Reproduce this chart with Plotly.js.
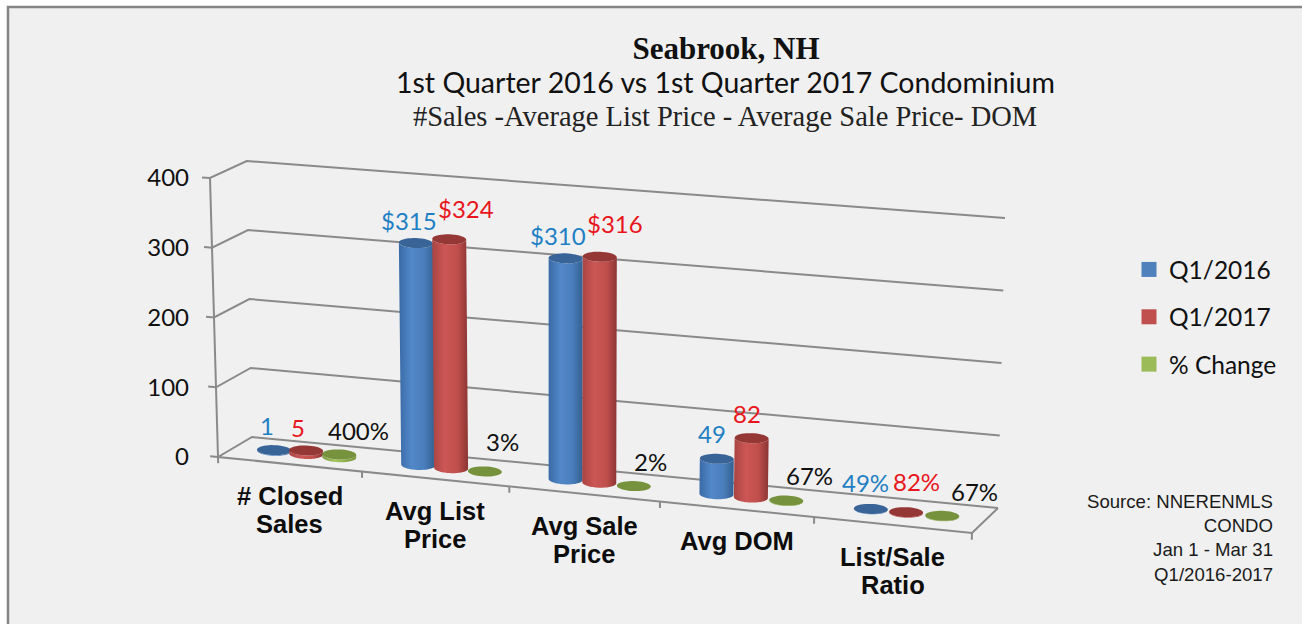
<!DOCTYPE html>
<html><head><meta charset="utf-8">
<script src="https://cdn.plot.ly/plotly-3.0.1.min.js"></script>
<style>html,body{margin:0;padding:0;background:#fff}#chart{width:1302px;height:624px}</style>
</head><body><div id="chart"></div>
<script>
// ---- data ----
const categories = ['# Closed<br>Sales','Avg List<br>Price','Avg Sale<br>Price','Avg DOM','List/Sale<br>Ratio'];
const q12016 = [1, 315, 310, 49, 0.49];
const q12017 = [5, 324, 316, 82, 0.82];
const pctChange = [4, 0.03, 0.02, 0.67, 0.67];
const labels2016 = ['1','$315','$310','49','49%'];
const labels2017 = ['5','$324','$316','82','82%'];
const labelsPct = ['400%','3%','2%','67%','67%'];
const yTicks = [0,100,200,300,400];
const seriesNames = ['Q1/2016','Q1/2017','% Change'];

// ---- plot area (pixels) ----
const W=1302,H=624, L=190,R=1050,T=150,B=570;
const PXU=150.8, PYU=0.6975;            // pixels per category, pixels per value unit at the front-left corner
const X=p=>(p-218)/PXU, Y=p=>(457-p)/PYU;
const DX=p=>p/PXU, DY=p=>p/PYU;

// oblique floor and walls, in axis units
const corners={
  FL:{x:X(218),y:Y(457),tx:DX(-8)/400,ty:DY(279)/400},
  FR:{x:X(972),y:Y(533),tx:DX(10)/400,ty:DY(300)/400},
  BL:{x:X(252),y:Y(437),tx:DX(-5.3)/400,ty:DY(276)/400},
  BR:{x:X(998),y:Y(508),tx:DX(7)/400,ty:DY(290)/400}
};
const k=0.059;
function persp(u){const s=u/5;return s/(1+k*(1-s));}
function project(u,d,v){
  const t=persp(u);
  const mix=(a,b,w)=>a+(b-a)*w;
  const at=(c,v)=>[c.x+c.tx*v,c.y+c.ty*v];
  const f=[mix(at(corners.FL,v)[0],at(corners.FR,v)[0],t),mix(at(corners.FL,v)[1],at(corners.FR,v)[1],t)];
  const b=[mix(at(corners.BL,v)[0],at(corners.BR,v)[0],t),mix(at(corners.BL,v)[1],at(corners.BR,v)[1],t)];
  return [mix(f[0],b[0],d),mix(f[1],b[1],d)];
}
function line(pts,width,color){
  return {type:'scatter',mode:'lines',x:pts.map(p=>p[0]),y:pts.map(p=>p[1]),
    line:{color:color||'#8a8a8a',width:width||2},hoverinfo:'skip',showlegend:false,xaxis:'x',yaxis:'y'};
}
const traces=[];
// walls
yTicks.forEach(v=>{
  traces.push(line([project(-0.055,0,v),project(0,0,v),project(0,1,v),project(5,1,v)]));
});
// floor + frame
traces.push(line([project(0,0,400),project(0,0,0),project(5,0,0),project(5,1,0)]));
[0,1,2,3,4,5].forEach(u=>traces.push(line([project(u,0,0),project(u,0,-9)])));

// cylinders
const styles=[
 {vals:q12016,off:0.275,top:'#386497',scale:[[0,'#3a6aa6'],[0.35,'#5288c9'],[0.7,'#4a7dbb'],[1,'#33608f']]},
 {vals:q12017,off:0.5,top:'#953735',scale:[[0,'#a84442'],[0.35,'#cc5755'],[0.7,'#c04f4c'],[1,'#8b3533']]},
 {vals:pctChange,off:0.73,top:'#76923c',scale:[[0,'#7f9c42'],[0.4,'#a3c65f'],[1,'#7a963e']]}
];
const RX=DX(17),RY=DY(5),TILT=0.03;
const N=40;
function ellipsePt(c,a){ // a in radians
  const dx=RX*Math.cos(a), dy=RY*Math.sin(a);
  return [c[0]+dx, c[1]+dy-TILT*dx*PXU/PYU];
}
const tops=[];
styles.forEach((st,si)=>{
  tops.push([]);
  st.vals.forEach((v,i)=>{
    const u=i+st.off;
    const base=project(u,0.5,0), top=project(u,0.5,v);
    tops[si].push(top);
    const px=[],py=[];
    for(let j=0;j<=N;j++){const p=ellipsePt(base,Math.PI+Math.PI*j/N);px.push(p[0]);py.push(p[1]);}
    for(let j=0;j<=N;j++){const p=ellipsePt(top,Math.PI*2-Math.PI*j/N);px.push(p[0]);py.push(p[1]);}
    traces.push({type:'scatter',mode:'none',x:px,y:py,fill:'toself',
      fillgradient:{type:'horizontal',colorscale:st.scale},
      hoverinfo:'skip',showlegend:false,name:seriesNames[si]});
    const ex=[],ey=[];
    for(let j=0;j<=N;j++){const p=ellipsePt(top,2*Math.PI*j/N);ex.push(p[0]);ey.push(p[1]);}
    traces.push({type:'scatter',mode:'none',x:ex,y:ey,fill:'toself',fillcolor:st.top,
      hoverinfo:'skip',showlegend:false,name:seriesNames[si]});
  });
});
// legend entries
const legendColors=['#4F81BD','#C0504D','#9BBB59'];
seriesNames.forEach((n,i)=>traces.push({type:'scatter',mode:'markers',x:[null],y:[null],name:n,legendgroup:n,
  marker:{symbol:'square',size:15,color:legendColors[i]},hoverinfo:'skip'}));

// data labels: offsets (px) from each bar's top
const labelSets=[
 {text:labels2016,color:'#1f7fc4',dx:[-7,-7,-8,-5,-5],dy:[25,23,23,25,26]},
 {text:labels2017,color:'#e8161c',dx:[-8,17,15,-5,10],dy:[23,31,33,25,31]},
 {text:labelsPct,color:'#111111',dx:[19,18,17,23,32],dy:[24,30,25,25,24]}
];
const annotations=[];
labelSets.forEach((s,si)=>s.text.forEach((t,i)=>annotations.push({
  x:tops[si][i][0],y:tops[si][i][1],xref:'x',yref:'y',text:t,showarrow:false,xanchor:'center',yanchor:'middle',
  xshift:s.dx[i],yshift:s.dy[i],font:{family:'Lato',size:24,color:s.color}
})));
// category labels hang from the front edge of the floor, one annotation per line
categories.forEach((c,i)=>{
  const p=project(i+0.5,0,0);
  c.split('<br>').forEach((part,j)=>annotations.push({x:p[0],y:p[1],xref:'x',yref:'y',text:'<b>'+part+'</b>',showarrow:false,xanchor:'center',yanchor:'middle',
    yshift:-32-28*j,font:{family:'Liberation Sans',size:25.5,color:'#0d0d0d'}}));
});
// subtitles
annotations.push({xref:'paper',yref:'paper',x:(725-L)/(R-L),y:(B-82)/(B-T),text:'1st Quarter 2016 vs 1st Quarter 2017 Condominium',showarrow:false,xanchor:'center',yanchor:'middle',font:{family:'Lato',size:28.5,color:'#111'}});
annotations.push({xref:'paper',yref:'paper',x:(725-L)/(R-L),y:(B-116)/(B-T),text:'#Sales -Average List Price - Average Sale Price- DOM',showarrow:false,xanchor:'center',yanchor:'middle',font:{family:'Liberation Serif',size:28.5,color:'#222'}});
// source
annotations.push({xref:'paper',yref:'paper',x:(1273-L)/(R-L),y:(B-538)/(B-T),xshift:2,text:'Source: NNERENMLS<br>CONDO<br>Jan 1 - Mar 31<br>Q1/2016-2017',showarrow:false,xanchor:'right',yanchor:'middle',align:'right',font:{family:'Liberation Sans',size:18.6,color:'#1a1a1a'}});

const layout={
  width:W,height:H,margin:{l:L,r:W-R,t:T,b:H-B},
  paper_bgcolor:'#ffffff',plot_bgcolor:'rgba(0,0,0,0)',
  title:{text:'<b>Seabrook, NH</b>',x:726/W,xanchor:'center',y:1-48/H,yanchor:'middle',font:{family:'Liberation Serif',size:31,color:'#111'}},
  xaxis:{range:[X(L),X(R)],visible:false,fixedrange:true},
  yaxis:{range:[Y(B),Y(T)],tickmode:'array',tickvals:yTicks,ticktext:yTicks.map(String),showgrid:false,zeroline:false,showline:false,ticks:'',
    tickfont:{family:'Lato',size:24,color:'#111'},fixedrange:true},
  legend:{x:(1129-L)/(R-L),y:(B-247)/(B-T),xanchor:'left',yanchor:'top',bgcolor:'rgba(0,0,0,0)',tracegroupgap:12.5,itemwidth:30,
    font:{family:'Lato',size:24.5,color:'#111'}},
  annotations,
  // frame: only the left and top edges show; the panel runs off the right and bottom of the picture
  shapes:[{type:'rect',xref:'paper',yref:'paper',layer:'below',x0:(8-L)/(R-L),x1:(1320-L)/(R-L),y0:(B-640)/(B-T),y1:(B-7)/(B-T),
    fillcolor:'#f0f0f0',line:{color:'#858585',width:2.5}}]
};
Plotly.newPlot('chart',traces,layout,{displayModeBar:false,staticPlot:true});
</script></body></html>
